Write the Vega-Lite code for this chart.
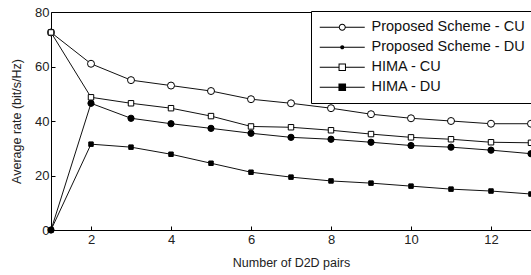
{
  "$schema": "https://vega.github.io/schema/vega-lite/v6.json",
  "width": 480,
  "height": 218,
  "autosize": "none",
  "padding": {"left": 51, "top": 12, "right": 0, "bottom": 45},
  "background": "white",
  "data": {"values": [
    {"n": 1, "series": "Proposed Scheme - CU", "rate": 72.5},
    {"n": 2, "series": "Proposed Scheme - CU", "rate": 61},
    {"n": 3, "series": "Proposed Scheme - CU", "rate": 55},
    {"n": 4, "series": "Proposed Scheme - CU", "rate": 53},
    {"n": 5, "series": "Proposed Scheme - CU", "rate": 51},
    {"n": 6, "series": "Proposed Scheme - CU", "rate": 48},
    {"n": 7, "series": "Proposed Scheme - CU", "rate": 46.5},
    {"n": 8, "series": "Proposed Scheme - CU", "rate": 44.7},
    {"n": 9, "series": "Proposed Scheme - CU", "rate": 42.5},
    {"n": 10, "series": "Proposed Scheme - CU", "rate": 41},
    {"n": 11, "series": "Proposed Scheme - CU", "rate": 40},
    {"n": 12, "series": "Proposed Scheme - CU", "rate": 39},
    {"n": 13, "series": "Proposed Scheme - CU", "rate": 39},
    {"n": 1, "series": "Proposed Scheme - DU", "rate": 0},
    {"n": 2, "series": "Proposed Scheme - DU", "rate": 46.5},
    {"n": 3, "series": "Proposed Scheme - DU", "rate": 41},
    {"n": 4, "series": "Proposed Scheme - DU", "rate": 39},
    {"n": 5, "series": "Proposed Scheme - DU", "rate": 37.3},
    {"n": 6, "series": "Proposed Scheme - DU", "rate": 35.5},
    {"n": 7, "series": "Proposed Scheme - DU", "rate": 34},
    {"n": 8, "series": "Proposed Scheme - DU", "rate": 33.3},
    {"n": 9, "series": "Proposed Scheme - DU", "rate": 32.2},
    {"n": 10, "series": "Proposed Scheme - DU", "rate": 31},
    {"n": 11, "series": "Proposed Scheme - DU", "rate": 30.4},
    {"n": 12, "series": "Proposed Scheme - DU", "rate": 29.3},
    {"n": 13, "series": "Proposed Scheme - DU", "rate": 28},
    {"n": 1, "series": "HIMA - CU", "rate": 72.5},
    {"n": 2, "series": "HIMA - CU", "rate": 48.7},
    {"n": 3, "series": "HIMA - CU", "rate": 46.5},
    {"n": 4, "series": "HIMA - CU", "rate": 44.7},
    {"n": 5, "series": "HIMA - CU", "rate": 41.8},
    {"n": 6, "series": "HIMA - CU", "rate": 38},
    {"n": 7, "series": "HIMA - CU", "rate": 37.7},
    {"n": 8, "series": "HIMA - CU", "rate": 36.6},
    {"n": 9, "series": "HIMA - CU", "rate": 35.2},
    {"n": 10, "series": "HIMA - CU", "rate": 34},
    {"n": 11, "series": "HIMA - CU", "rate": 33.3},
    {"n": 12, "series": "HIMA - CU", "rate": 32.2},
    {"n": 13, "series": "HIMA - CU", "rate": 32},
    {"n": 1, "series": "HIMA - DU", "rate": 0},
    {"n": 2, "series": "HIMA - DU", "rate": 31.5},
    {"n": 3, "series": "HIMA - DU", "rate": 30.4},
    {"n": 4, "series": "HIMA - DU", "rate": 27.8},
    {"n": 5, "series": "HIMA - DU", "rate": 24.5},
    {"n": 6, "series": "HIMA - DU", "rate": 21.2},
    {"n": 7, "series": "HIMA - DU", "rate": 19.4},
    {"n": 8, "series": "HIMA - DU", "rate": 18},
    {"n": 9, "series": "HIMA - DU", "rate": 17.2},
    {"n": 10, "series": "HIMA - DU", "rate": 16.1},
    {"n": 11, "series": "HIMA - DU", "rate": 15},
    {"n": 12, "series": "HIMA - DU", "rate": 14.3},
    {"n": 13, "series": "HIMA - DU", "rate": 13.2}
  ]},
  "encoding": {
    "x": {"field": "n", "type": "quantitative", "scale": {"domain": [1, 13], "nice": false, "zero": false},
      "axis": {"title": "Number of D2D pairs", "values": [2, 4, 6, 8, 10, 12], "tickSize": -4, "labelPadding": 7, "titlePadding": 10, "domain": false, "labelFlush": false}},
    "y": {"field": "rate", "type": "quantitative", "scale": {"domain": [0, 80], "nice": false},
      "axis": {"title": "Average rate (bit/s/Hz)", "values": [0, 20, 40, 60, 80], "tickSize": -4, "labelPadding": 6, "titlePadding": 11, "domain": false, "labelFlush": false}}
  },
  "layer": [
    {
      "mark": {"type": "line", "color": "#111", "strokeWidth": 1, "clip": true},
      "encoding": {"detail": {"field": "series"}}
    },
    {
      "mark": {"type": "point", "stroke": "black", "strokeWidth": 1, "opacity": 1, "clip": false},
      "encoding": {
        "shape": {"field": "series", "type": "nominal", "legend": null,
          "scale": {"domain": ["Proposed Scheme - CU", "Proposed Scheme - DU", "HIMA - CU", "HIMA - DU"], "range": ["circle", "circle", "square", "square"]}},
        "fill": {"field": "series", "type": "nominal", "legend": null,
          "scale": {"domain": ["Proposed Scheme - CU", "Proposed Scheme - DU", "HIMA - CU", "HIMA - DU"], "range": ["white", "black", "white", "black"]}},
        "size": {"field": "series", "type": "nominal", "legend": null,
          "scale": {"domain": ["Proposed Scheme - CU", "Proposed Scheme - DU", "HIMA - CU", "HIMA - DU"], "range": [49, 20, 81, 100]}}
      }
    },
    {
      "mark": {"type": "point", "filled": true, "color": "black", "size": 0},
      "encoding": {
        "shape": {"field": "series", "type": "nominal",
          "legend": {"symbolFillColor": "black", "symbolStrokeWidth": 0, "symbolOpacity": 1, "symbolSize": 100},
          "scale": {"domain": ["Proposed Scheme - CU", "Proposed Scheme - DU", "HIMA - CU", "HIMA - DU"],
            "range": [
              "M-4.5,-0.1L-0.65,-0.1L-0.65,0.1L-4.5,0.1ZM0.65,-0.1L4.5,-0.1L4.5,0.1L0.65,0.1ZM0.7,0A0.7,0.7 0 1 1 -0.7,0A0.7,0.7 0 1 1 0.7,0ZM0.5,0A0.5,0.5 0 1 0 -0.5,0A0.5,0.5 0 1 0 0.5,0Z",
              "M-4.5,-0.1L4.5,-0.1L4.5,0.1L-4.5,0.1ZM0.42,0A0.42,0.42 0 1 1 -0.42,0A0.42,0.42 0 1 1 0.42,0Z",
              "M-4.5,-0.1L-0.7,-0.1L-0.7,0.1L-4.5,0.1ZM0.7,-0.1L4.5,-0.1L4.5,0.1L0.7,0.1ZM-0.74,-0.74L0.74,-0.74L0.74,0.74L-0.74,0.74ZM-0.54,-0.54L-0.54,0.54L0.54,0.54L0.54,-0.54Z",
              "M-4.5,-0.1L-0.7,-0.1L-0.7,0.1L-4.5,0.1ZM0.7,-0.1L4.5,-0.1L4.5,0.1L0.7,0.1ZM-0.76,-0.76L0.76,-0.76L0.76,0.76L-0.76,0.76Z"
            ]}}
      }
    }
  ],
  "resolve": {"scale": {"shape": "independent", "fill": "independent", "size": "independent"}},
  "config": {
    "font": "Liberation Sans",
    "view": {"stroke": "black", "strokeWidth": 1},
    "axis": {"grid": false, "domainColor": "black", "tickColor": "black", "labelColor": "#222", "titleColor": "#222", "titleFontWeight": "normal", "labelFontSize": 13, "titleFontSize": 12.5},
    "legend": {
      "orient": "none", "legendX": 260, "legendY": -1, "title": null,
      "strokeColor": "black", "fillColor": "white", "padding": 9,
      "symbolOffset": 15, "labelFontSize": 14.5, "labelColor": "#111", "labelFont": "Liberation Sans", "rowPadding": 5, "labelOffset": 22, "labelLimit": 300
    }
  }
}
